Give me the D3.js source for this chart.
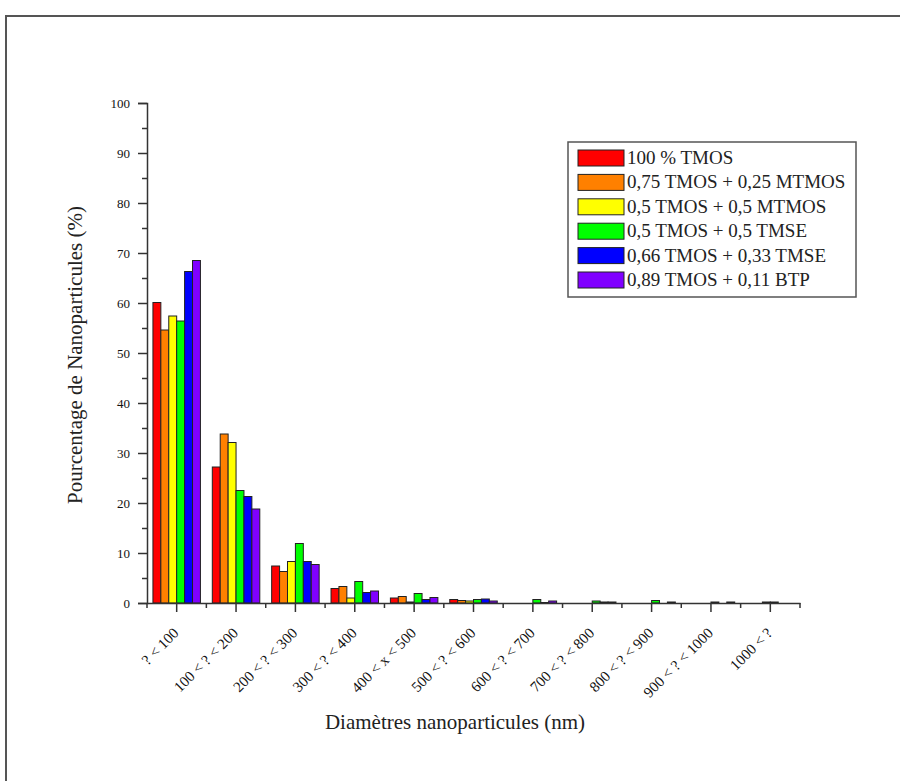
<!DOCTYPE html>
<html>
<head>
<meta charset="utf-8">
<script src="https://cdn.jsdelivr.net/npm/d3@7"></script>
<style>
  html, body { margin: 0; padding: 0; background: #ffffff; }
  svg { display: block; }
</style>
</head>
<body>
<svg id="chart" width="900" height="781"></svg>
<script>
// ---- Data ----
const categories = ["? < 100", "100 < ? < 200", "200 < ? < 300", "300 < ? < 400", "400 < x < 500",
  "500 < ? < 600", "600 < ? < 700", "700 < ? < 800", "800 < ? < 900", "900 < ? < 1000", "1000 < ?"];
const seriesNames = ["100 % TMOS", "0,75 TMOS + 0,25 MTMOS", "0,5 TMOS + 0,5 MTMOS",
  "0,5 TMOS + 0,5 TMSE", "0,66 TMOS + 0,33 TMSE", "0,89 TMOS + 0,11 BTP"];
const tmos100       = [60.1, 27.2, 7.4, 2.9, 1.0, 0.7, 0.0, 0.0, 0.0, 0.0, 0.0];
const tmos75mtmos25 = [54.6, 33.8, 6.3, 3.3, 1.3, 0.5, 0.0, 0.0, 0.0, 0.0, 0.0];
const tmos50mtmos50 = [57.4, 32.1, 8.3, 1.0, 0.2, 0.4, 0.0, 0.0, 0.0, 0.0, 0.2];
const tmos50tmse50  = [56.4, 22.5, 11.9, 4.3, 1.9, 0.7, 0.7, 0.4, 0.5, 0.2, 0.2];
const tmos66tmse33  = [66.3, 21.3, 8.3, 2.1, 0.7, 0.8, 0.1, 0.2, 0.0, 0.0, 0.0];
const tmos89btp11   = [68.5, 18.8, 7.7, 2.4, 1.1, 0.4, 0.4, 0.2, 0.2, 0.2, 0.0];
const seriesValues = [tmos100, tmos75mtmos25, tmos50mtmos50, tmos50tmse50, tmos66tmse33, tmos89btp11];
const seriesColors = ["#ff0000", "#ff8000", "#ffff00", "#00ff00", "#0000ff", "#8000ff"];
const yMajorTicks = [0, 10, 20, 30, 40, 50, 60, 70, 80, 90, 100];
const yMinorTicks = [5, 15, 25, 35, 45, 55, 65, 75, 85, 95];
const xTitle = "Diamètres nanoparticules (nm)";
const yTitle = "Pourcentage de Nanoparticules (%)";

// ---- Layout ----
const svg = d3.select("#chart");
const serif = "'Liberation Serif', 'Times New Roman', serif";
const axisColor = "#333";
const plotLeft = 147, plotRight = 800, plotTop = 103, plotBottom = 603;

// outer frame (top and left edges only visible)
svg.append("path")
  .attr("d", "M6,781 L6,16 L900,16")
  .attr("fill", "none").attr("stroke", "#555").attr("stroke-width", 2);

const x = d3.scaleBand().domain(categories).range([plotLeft, plotRight]).paddingInner(0).paddingOuter(0);
const xInner = d3.scaleBand().domain(seriesNames)
  .range([x.bandwidth() * 0.1, x.bandwidth() * 0.9]).padding(0);
const y = d3.scaleLinear().domain([0, 100]).range([plotBottom, plotTop]);

// bars
const rows = [];
categories.forEach((c, i) => {
  seriesNames.forEach((s, j) => rows.push({ cat: c, ser: s, v: seriesValues[j][i], color: seriesColors[j] }));
});
svg.append("g").selectAll("rect").data(rows).join("rect")
  .attr("x", d => x(d.cat) + xInner(d.ser))
  .attr("y", d => y(d.v))
  .attr("width", xInner.bandwidth())
  .attr("height", d => y(0) - y(d.v))
  .attr("fill", d => d.color)
  .attr("stroke", "#222").attr("stroke-width", 1);

// Y axis
const yAxis = svg.append("g").attr("transform", `translate(${plotLeft},0)`)
  .call(d3.axisLeft(y).tickValues(yMajorTicks).tickSize(9).tickPadding(8).tickFormat(d3.format("d")));
svg.append("g").attr("transform", `translate(${plotLeft},0)`)
  .call(d3.axisLeft(y).tickValues(yMinorTicks).tickSize(5).tickFormat(""))
  .call(g => g.select(".domain").remove());

// X axis: major ticks at centers, minor at group edges
svg.append("g").attr("transform", `translate(0,${plotBottom})`)
  .call(d3.axisBottom(x).tickSize(9).tickSizeOuter(0).tickFormat(""));
const edges = d3.range(categories.length + 1).map(i => plotLeft + i * x.bandwidth());
svg.append("g").selectAll("line").data(edges).join("line")
  .attr("x1", d => d).attr("x2", d => d)
  .attr("y1", plotBottom).attr("y2", plotBottom + 5)
  .attr("stroke", axisColor).attr("stroke-width", 1.5);

svg.selectAll(".domain, .tick line").attr("stroke", axisColor).attr("stroke-width", 1.5);
yAxis.selectAll(".tick text")
  .attr("font-family", serif).attr("font-size", 13).attr("fill", "#111");

// rotated x tick labels
svg.append("g").selectAll("text").data(categories).join("text")
  .attr("transform", d => `translate(${x(d) + x.bandwidth() / 2 + 3},${plotBottom + 31}) rotate(-45)`)
  .attr("text-anchor", "end")
  .attr("font-family", serif).attr("font-size", 15).attr("fill", "#111")
  .text(d => d);

// axis titles
svg.append("text")
  .attr("x", 455).attr("y", 729)
  .attr("text-anchor", "middle")
  .attr("font-family", serif).attr("font-size", 21).attr("fill", "#222")
  .text(xTitle);
svg.append("text")
  .attr("transform", `translate(82,355) rotate(-90)`)
  .attr("text-anchor", "middle")
  .attr("font-family", serif).attr("font-size", 21).attr("fill", "#222")
  .text(yTitle);

// legend
const lg = svg.append("g");
lg.append("rect").attr("x", 568).attr("y", 142).attr("width", 288).attr("height", 155)
  .attr("fill", "#fff").attr("stroke", "#555").attr("stroke-width", 1.5);
const legendY = d3.scalePoint().domain(seriesNames).range([158, 280]);
const items = lg.selectAll("g.item").data(seriesNames).join("g").attr("class", "item");
items.append("rect")
  .attr("x", 578).attr("y", d => legendY(d) - 8)
  .attr("width", 46).attr("height", 16)
  .attr("fill", (d, i) => seriesColors[i])
  .attr("stroke", "#222").attr("stroke-width", 1);
items.append("text")
  .attr("x", 627).attr("y", d => legendY(d) + 6)
  .attr("font-family", serif).attr("font-size", 19).attr("fill", "#222")
  .text(d => d);
</script>
</body>
</html>
